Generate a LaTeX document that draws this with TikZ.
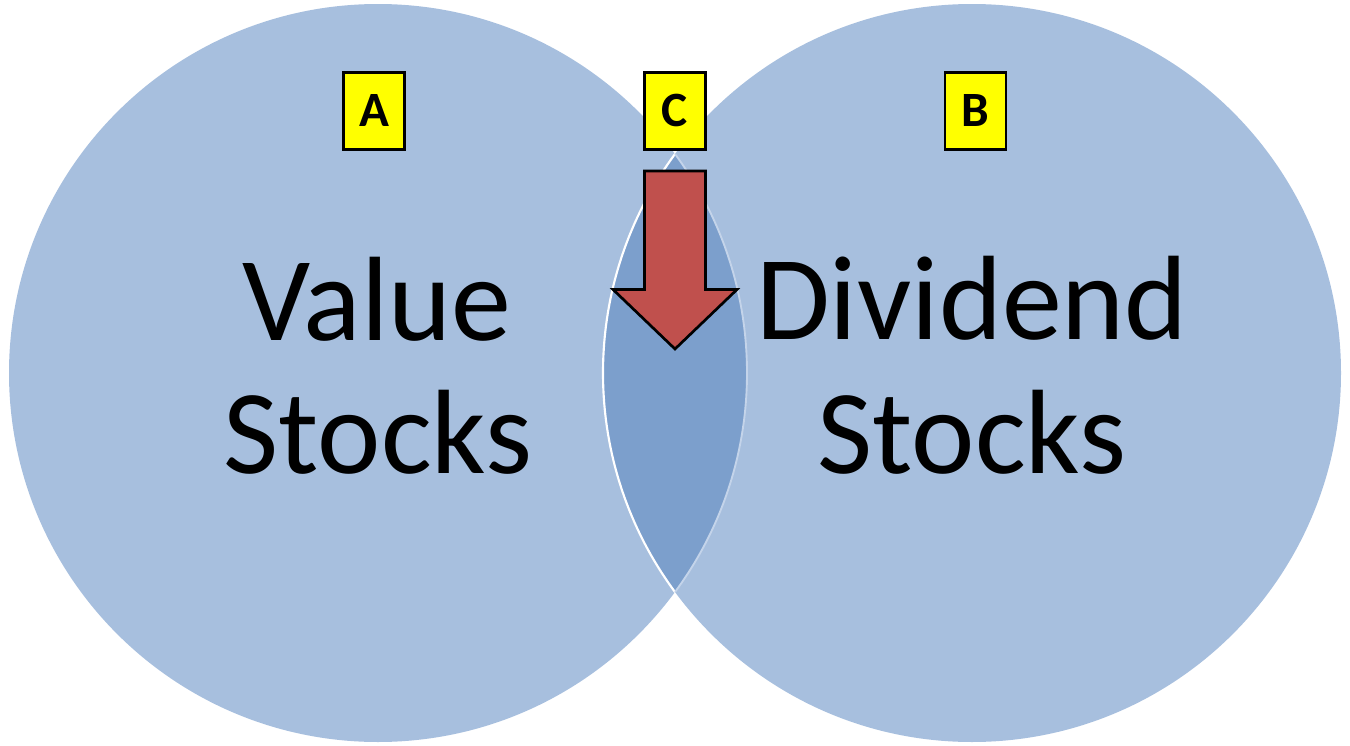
\documentclass[tikz,border=0pt]{standalone}
\usepackage{fontspec}
\setmainfont{Carlito}
\definecolor{circfill}{HTML}{A7BFDE}
\definecolor{lensfill}{HTML}{7C9FCC}
\definecolor{lensedge}{HTML}{C4D4EA}
\definecolor{arrowred}{HTML}{C0504D}
\definecolor{tagyellow}{HTML}{FFFF00}
\tikzset{
  tagbox/.style={draw=black, line width=2pt, fill=tagyellow, minimum width=45.75pt, minimum height=57.75pt, inner sep=0pt, font=\fontsize{37}{40}\selectfont\bfseries},
  bigtext/.style={anchor=base, inner sep=0pt, font=\fontsize{90}{100}\selectfont},
}
\begin{document}
\begin{tikzpicture}[x=0.75pt,y=-0.75pt]
\useasboundingbox (0,0) rectangle (1350,746);
\coordinate (cL) at (378,373);
\coordinate (cR) at (972,373);
% circles
\fill[circfill] (cL) circle[radius=276.75pt];
\fill[circfill] (cR) circle[radius=276.75pt];
% lens
\begin{scope}
  \clip (cL) circle[radius=276.75pt];
  \fill[lensfill] (cR) circle[radius=276.75pt];
  \draw[white, line width=1.6pt] (cR) circle[radius=276.75pt];
\end{scope}
\begin{scope}
  \clip (cR) circle[radius=276.75pt];
  \draw[lensedge, line width=1.4pt] (cL) circle[radius=276.75pt];
\end{scope}
% texts
\node[bigtext] (valueA) at (377,340) {Value};
\node[bigtext] (valueB) at (378,473) {Stocks};
\node[bigtext] (divA) at (972,339) {Dividend};
\node[bigtext] (divB) at (972,473) {Stocks};
% tags
\node[tagbox] (tagA) at (374.3,110.8) {A};
\node[tagbox] (tagC) at (675,110.8) {C};
\node[tagbox] (tagB) at (975.5,110.8) {B};
% arrow
\coordinate (a1) at (644.5,171);
\coordinate (a2) at (705.5,171);
\coordinate (a3) at (705.5,289.5);
\coordinate (a4) at (737,289.5);
\coordinate (a5) at (675,349);
\coordinate (a6) at (613,289.5);
\coordinate (a7) at (644.5,289.5);
\draw[fill=arrowred, draw=black, line width=2pt, line join=miter]
  (a1) -- (a2) -- (a3) -- (a4) -- (a5) -- (a6) -- (a7) -- cycle;
\end{tikzpicture}
\end{document}
